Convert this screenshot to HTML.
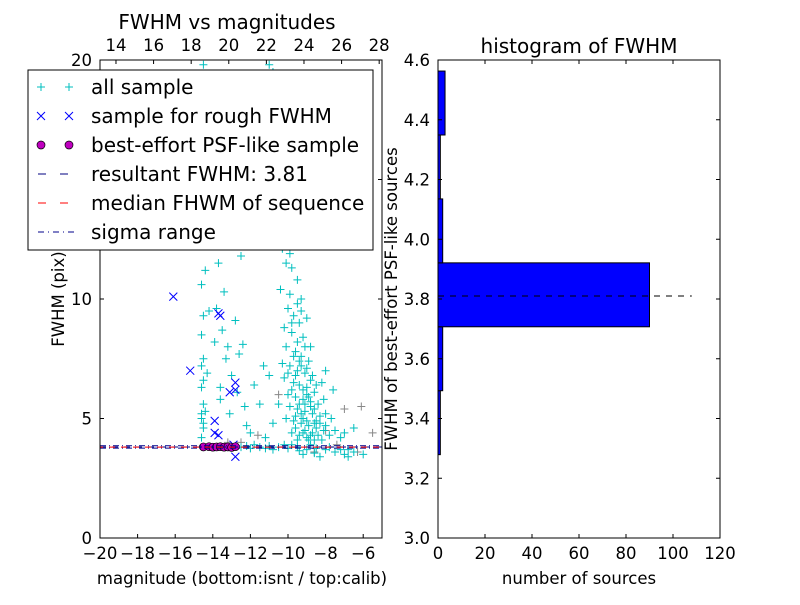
<!DOCTYPE html>
<html><head><meta charset="utf-8"><style>
body{margin:0;background:#fff;}
svg{font-family:"DejaVu Sans","Liberation Sans",sans-serif;}
</style></head><body>
<svg id="chart" width="800" height="600" viewBox="0 0 800 600" xmlns="http://www.w3.org/2000/svg">
<rect width="800" height="600" fill="#fff"/>
<g id="left"></g>
<g id="right"></g>
</svg>
<script>
const allSample=[[-14.6,4.2],[-14.5,4.6],[-14.6,5.2],[-14.5,5.6],[-14.6,6.3],[-14.5,6.6],[-14.6,7.2],[-14.5,7.5],[-14.6,8.5],[-14.5,9.3],[-14.6,10.6],[-14.4,11.2],[-14.5,12.3],[-14.3,13.5],[-14.5,19.8],[-14.2,9.5],[-14.3,6.9],[-14.6,5.0],[-14.5,4.8],[-14.4,5.3],
[-13.8,9.6],[-13.5,8.7],[-13.3,7.5],[-13,6.8],[-13.7,11.5],[-13.2,12.2],[-12.9,13],[-13.6,5.8],[-13.1,5.2],[-12.6,7.7],[-12.4,8.1],[-13.4,10.3],[-12.8,9.1],[-12.7,6.1],[-12.2,4.7],[-13.9,8.2],[-13.2,8.0],[-12.5,11.8],[-13.6,6.3],
[-11,19.8],[-10.8,19.5],[-10.6,13.5],[-10.2,13.2],[-9.6,12.8],[-9.2,13.6],[-10.3,12.1],[-10.1,11.5],[-9.8,11.3],[-9.5,10.8],[-10.4,10.4],[-9.9,10.2],[-9.3,10.0],[-10.0,9.6],[-9.7,9.3],[-9.4,9.0],[-10.2,8.8],[-9.8,8.6],[-9.2,8.4],[-8.8,8.0],[-10.1,8.0],[-9.6,7.8],[-9.3,7.6],[-8.9,7.4],[-10.3,7.3],[-9.9,7.2],[-9.5,7.0],[-9.1,6.9],[-8.7,6.8],[-10.2,6.7],[-9.7,6.5],[-9.4,6.4],[-9.0,6.3],[-8.6,6.1],[-10.0,6.0],[-9.6,5.9],[-9.2,5.8],[-8.8,5.7],[-8.4,5.6],[-9.9,5.5],[-9.5,5.4],[-9.1,5.3],[-8.7,5.2],[-8.3,5.1],[-10.1,5.0],[-9.7,4.9],[-9.3,4.8],[-8.9,4.7],[-8.5,4.6],[-8.1,4.5],[-9.8,4.4],[-9.4,4.3],[-9.0,4.2],[-8.6,4.1],[-8.2,4.1],[-7.8,4.3],[-7.5,4.5],[-9.6,4.6],[-9.2,5.0],[-8.8,5.5],[-9.0,6.0],[-9.4,5.6],[-9.6,6.8],[-9.3,7.2],[-8.5,4.9],[-8.0,4.7],[-7.2,4.2],[-6.8,3.7],[-7.0,4.4],[-11.3,7.2],[-11.0,6.8],[-11.8,6.4],[-11.5,5.6],[-12.0,4.4],[-11.2,4.2],[-10.8,4.8],[-10.5,5.6],[-12.3,5.5],[-8.2,6.5],[-7.6,6.2],[-8.0,7.0],[-6.5,4.6],
[-9.9,11.9],[-9.7,12.3],[-10.0,12.6],[-9.5,9.8],[-9.3,9.5],[-9.0,9.2],[-9.8,9.0],[-9.5,8.2],[-9.1,8.0],[-9.7,7.6],[-9.4,7.4],[-9.0,7.1],[-8.8,6.6],[-9.2,6.2],[-8.9,5.9],[-8.6,5.4],[-9.3,5.2],[-9.0,4.9],[-8.7,4.4],[-8.4,4.3],[-8.9,4.1],[-9.5,4.1],[-9.1,4.5],[-8.3,4.8],[-8.0,5.2],[-7.7,5.0],[-8.1,5.8],[-8.5,6.4],[-9.8,6.2],[-10.0,6.9],[-9.6,5.1],[-9.2,4.4],[-8.8,4.3],[-8.6,4.8],[-9.1,5.6],
[-14.5,3.8],[-13.9,3.8],[-13.2,3.8],[-12.5,3.8],[-12.0,3.75],[-11.5,3.8],[-11.0,3.85],[-10.5,3.8],[-10.0,3.75],[-9.5,3.8],[-9.0,3.7],[-8.5,3.75],[-8.0,3.7],[-7.5,3.6],[-7.0,3.5],[-6.5,3.6],[-6.0,3.5],[-11.8,3.9],[-10.8,3.7],[-9.8,3.9],[-8.8,3.9],[-7.8,3.8],[-6.8,3.4],[-9.2,3.5],[-8.3,3.4],[-12.2,3.85],[-11.2,3.75],[-10.2,3.9],[-9.4,3.65],[-8.6,3.55],[-7.2,3.7]];
const otherSample=[[-9.5,14.5],[-7.0,5.4],[-6.1,5.5],[-5.5,4.4],[-8.0,4.5],[-10.5,6.0],[-12.5,4.0],[-7.4,3.9],[-6.3,3.6],[-13.2,4.0],[-11.6,4.3],[-8.6,3.6]];
const roughSample=[[-16.1,10.1],[-15.2,7.0],[-13.7,9.4],[-13.6,9.3],[-12.8,6.5],[-13.1,6.1],[-12.8,6.2],[-13.9,4.9],[-13.9,4.4],[-13.7,4.3],[-12.8,3.4],[-12.9,3.9]];
const psfSample=[[-14.5,3.81],[-14.2,3.82],[-14.0,3.8],[-13.8,3.81],[-13.6,3.82],[-13.4,3.8],[-13.2,3.81],[-13.0,3.79],[-12.8,3.82]];
const resultFwhm=3.81;
const medianFwhm=3.8;
const sigmaRange=[3.76,3.86];
const binEdges=[3.279,3.493,3.707,3.921,4.135,4.349,4.563];
const binCounts=[1,2,90,2,1,3];
const leftXTicks=[-20,-18,-16,-14,-12,-10,-8,-6];
const leftYTicks=[0,5,10,15,20];
const topTicks=[14,16,18,20,22,24,26,28];
const rightXTicks=[0,20,40,60,80,100,120];
const rightYTicks=[3.0,3.2,3.4,3.6,3.8,4.0,4.2,4.4,4.6];

const NS="http://www.w3.org/2000/svg";
function mk(p,tag,at,txt){const e=document.createElementNS(NS,tag);for(const k in at)e.setAttribute(k,at[k]);if(txt!==undefined)e.textContent=txt;p.appendChild(e);return e;}
const L={x0:100,x1:382,y0:60,y1:538};
const lx=v=>L.x0+(v+20)/15*(L.x1-L.x0);
const ly=v=>L.y1-v/20*(L.y1-L.y0);
const tx=v=>L.x0+(v-13.15)/15*(L.x1-L.x0);
const R={x0:438,x1:720,y0:60,y1:538};
const rx=v=>R.x0+v/120*(R.x1-R.x0);
const ry=v=>R.y1-(v-3.0)/1.6*(R.y1-R.y0);
const left=document.getElementById('left'),right=document.getElementById('right');
const TF=16.5;

function plus(g,x,y,c,s){mk(g,'path',{d:`M${x-s},${y}H${x+s}M${x},${y-s}V${y+s}`,stroke:c,'stroke-width':1,fill:'none'});}
function cross(g,x,y,c,s){mk(g,'path',{d:`M${x-s},${y-s}L${x+s},${y+s}M${x-s},${y+s}L${x+s},${y-s}`,stroke:c,'stroke-width':1,fill:'none'});}

const clipL=mk(left,'clipPath',{id:'cl'});mk(clipL,'rect',{x:L.x0,y:L.y0,width:L.x1-L.x0,height:L.y1-L.y0});
const pts=mk(left,'g',{'clip-path':'url(#cl)'});


otherSample.forEach(p=>plus(pts,lx(p[0]),ly(p[1]),'#888',4));
allSample.forEach(p=>plus(pts,lx(p[0]),ly(p[1]),'#00bfbf',4));
roughSample.forEach(p=>cross(pts,lx(p[0]),ly(p[1]),'#0000ff',4));
psfSample.forEach(p=>mk(pts,'circle',{cx:lx(p[0]),cy:ly(p[1]),r:4,fill:'#bf00bf',stroke:'#000','stroke-width':0.7}));
mk(pts,'line',{x1:L.x0,x2:L.x1,y1:ly(sigmaRange[0]),y2:ly(sigmaRange[0]),stroke:'#00008b','stroke-dasharray':'6,3,1,3'});
mk(pts,'line',{x1:L.x0,x2:L.x1,y1:ly(sigmaRange[1]),y2:ly(sigmaRange[1]),stroke:'#00008b','stroke-dasharray':'6,3,1,3'});
mk(pts,'line',{x1:L.x0,x2:L.x1,y1:ly(resultFwhm),y2:ly(resultFwhm),stroke:'#000080','stroke-dasharray':'6,6'});
mk(pts,'line',{x1:L.x0,x2:L.x1,y1:ly(medianFwhm),y2:ly(medianFwhm),stroke:'#ff0000','stroke-dasharray':'6,6','stroke-dashoffset':3});
mk(left,'rect',{x:L.x0,y:L.y0,width:L.x1-L.x0,height:L.y1-L.y0,fill:'none',stroke:'#000'});
leftXTicks.forEach(v=>{const x=lx(v);mk(left,'path',{d:`M${x},${L.y1}v-4`,stroke:'#000'});mk(left,'text',{x:x,y:L.y1+21,'font-size':TF,'text-anchor':'middle'},(v<0?'\u2212':'')+Math.abs(v));});
leftYTicks.forEach(v=>{const y=ly(v);mk(left,'path',{d:`M${L.x0},${y}h4M${L.x1},${y}h-4`,stroke:'#000'});mk(left,'text',{x:L.x0-8,y:y+6,'font-size':TF,'text-anchor':'end'},v);});
topTicks.forEach(v=>{const x=tx(v);mk(left,'path',{d:`M${x},${L.y0}v4`,stroke:'#000'});mk(left,'text',{x:x,y:L.y0-9,'font-size':TF,'text-anchor':'middle'},v);});
let t=mk(left,'text',{x:242,y:584,'font-size':TF,'text-anchor':'middle'},'magnitude (bottom:isnt / top:calib)');
t=mk(left,'text',{x:64,y:299,'font-size':TF,'text-anchor':'middle',transform:'rotate(-90 64 299)'},'FWHM (pix)');
t=mk(left,'text',{x:227,y:29,'font-size':20,'text-anchor':'middle'},'FWHM vs magnitudes');

const lg=mk(left,'g',{});


mk(lg,'rect',{x:28,y:70,width:345,height:180,fill:'#fff',stroke:'#000'});
const entries=['all sample','sample for rough FWHM','best-effort PSF-like sample','resultant FWHM: 3.81','median FHWM of sequence','sigma range'];
entries.forEach((s,i)=>{const y=87+i*29;const g=mk(lg,'g',{});


if(i==0){plus(g,41,y,'#00bfbf',4);plus(g,69,y,'#00bfbf',4);}
if(i==1){cross(g,41,y,'#0000ff',4);cross(g,69,y,'#0000ff',4);}
if(i==2){[41,69].forEach(x=>mk(g,'circle',{cx:x,cy:y,r:4,fill:'#bf00bf',stroke:'#000','stroke-width':0.7}));}
if(i==3)mk(g,'line',{x1:38,x2:74,y1:y,y2:y,stroke:'#000080','stroke-dasharray':'8,14'});
if(i==4)mk(g,'line',{x1:38,x2:74,y1:y,y2:y,stroke:'#ff0000','stroke-dasharray':'8,14'});
if(i==5)mk(g,'line',{x1:38,x2:74,y1:y,y2:y,stroke:'#00008b','stroke-dasharray':'6,4,1,4'});
mk(g,'text',{x:91,y:y+7,'font-size':20},s);});

const bars=mk(right,'g',{});


binCounts.forEach((c,i)=>{const y1=ry(binEdges[i+1]),y2=ry(binEdges[i]);const b=mk(bars,'rect',{x:rx(0),y:y1,width:rx(c)-rx(0),height:y2-y1,fill:'#0000ff',stroke:'#000'});

});
mk(right,'line',{x1:rx(0),x2:rx(108),y1:ry(resultFwhm),y2:ry(resultFwhm),stroke:'#000','stroke-dasharray':'6,6'});
mk(right,'rect',{x:R.x0,y:R.y0,width:R.x1-R.x0,height:R.y1-R.y0,fill:'none',stroke:'#000'});
rightXTicks.forEach(v=>{const x=rx(v);mk(right,'path',{d:`M${x},${R.y1}v-4M${x},${R.y0}v4`,stroke:'#000'});mk(right,'text',{x:x,y:R.y1+21,'font-size':TF,'text-anchor':'middle'},v);});
rightYTicks.forEach(v=>{const y=ry(v);mk(right,'path',{d:`M${R.x0},${y}h4M${R.x1},${y}h-4`,stroke:'#000'});mk(right,'text',{x:R.x0-8,y:y+6,'font-size':TF,'text-anchor':'end'},v.toFixed(1));});
t=mk(right,'text',{x:579,y:584,'font-size':TF,'text-anchor':'middle'},'number of sources');
t=mk(right,'text',{x:397,y:299,'font-size':TF,'text-anchor':'middle',transform:'rotate(-90 397 299)'},'FWHM of best-effort PSF-like sources');
t=mk(right,'text',{x:579,y:53,'font-size':20,'text-anchor':'middle'},'histogram of FWHM');
</script>
</body></html>
